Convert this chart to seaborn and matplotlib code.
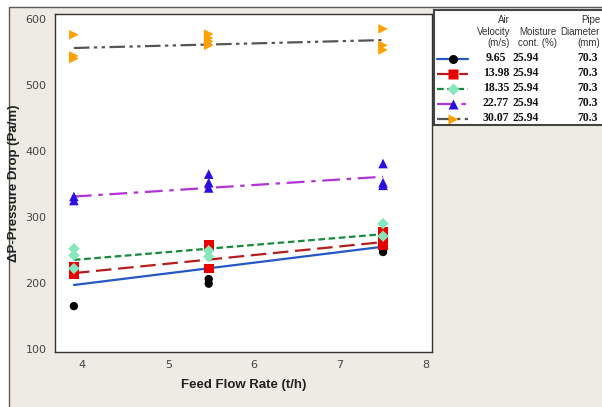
import seaborn as sns
import matplotlib.pyplot as plt
import pandas as pd
import numpy as np
from matplotlib.patches import Rectangle

# Feed flow rates (t/h) and measured pressure drops per air velocity
flow = [3.9, 5.47, 7.5]
velocities = ['9.65', '13.98', '18.35', '22.77', '30.07']
moisture = ['25.94', '25.94', '25.94', '25.94', '25.94']
diameter = ['70.3', '70.3', '70.3', '70.3', '70.3']

dp_965 = [[165], [206, 199], [247, 251]]
dp_1398 = [[224, 214], [257, 222], [277, 262, 257]]
dp_1835 = [[252, 242, 222], [249, 240], [290, 271]]
dp_2277 = [[331, 325], [365, 352, 344], [381, 352, 348]]
dp_3007 = [[576, 544, 540], [577, 571, 566, 560], [585, 560, 553]]

# fitted line values at first and last flow rate
fit_start = [197, 215, 235, 331, 556]
fit_end = [255, 262, 274, 361, 568]

series = [dp_965, dp_1398, dp_1835, dp_2277, dp_3007]
line_colors = ['#2457c5', '#b51c1c', '#178a3c', '#b034d6', '#555555']
marker_colors = ['#000000', '#e80000', '#86e6bc', '#2a10e0', '#ffa000']
markers = ['o', 's', 'D', '^', '>']
msizes = [36, 50, 34, 48, 48]
dashes = [(None, None), (7, 3), (3, 1.6), (8, 3, 2, 3), (7, 2, 1.5, 2, 1.5, 2)]

rows = []
for v, s in zip(velocities, series):
    for x, vals in zip(flow, s):
        for y in vals:
            rows.append({'flow': x, 'dp': y, 'vel': v})
df = pd.DataFrame(rows)

sns.set_style('white')
W, H = 602, 407
fig = plt.figure(figsize=(W / 100, H / 100), dpi=100)
fig.patch.set_facecolor('white')

# beige graph region with border
bg = Rectangle((9 / W, -0.1), 1.2, (H - 7) / H + 0.1, transform=fig.transFigure,
               facecolor='#eeebe5', edgecolor='#5a5a5a', lw=1.0, zorder=-10)
fig.patches.append(bg)

ax = fig.add_axes([55 / W, (H - 352) / H, (432 - 55) / W, (352 - 14) / H])
ax.set_facecolor('white')

for i, v in enumerate(velocities):
    fit = pd.DataFrame({'flow': [flow[0], flow[-1]], 'dp': [fit_start[i], fit_end[i]]})
    ln, = ax.plot(fit['flow'], fit['dp'], color=line_colors[i], lw=1.6, zorder=2)
    if dashes[i][0] is not None:
        ln.set_dashes(dashes[i])

for i, v in enumerate(velocities):
    sub = df[df['vel'] == v]
    sns.scatterplot(data=sub, x='flow', y='dp', ax=ax, marker=markers[i],
                    color=marker_colors[i], s=msizes[i], edgecolor='none',
                    zorder=3, legend=False)

ax.set_xlim(3.68, 8.07)
ax.set_ylim(95.5, 607.5)
ax.set_xticks([4, 5, 6, 7, 8])
ax.set_yticks([100, 200, 300, 400, 500, 600])
for sp in ax.spines.values():
    sp.set_color('#333333')
    sp.set_linewidth(1.0)
ax.tick_params(direction='out', length=4, width=1, color='#333333',
               labelsize=8, labelcolor='#444444', pad=2)
ax.set_xlabel('Feed Flow Rate (t/h)', fontsize=9.5, fontweight='bold',
              family='Liberation Sans', color='#222222', labelpad=6)
ax.set_ylabel('ΔP-Pressure Drop (Pa/m)', fontsize=9.5, fontweight='bold',
              family='Liberation Sans', color='#222222', labelpad=4)

# legend table
lx0, lx1, ly0, ly1 = 434, 660, 10, 125
lax = fig.add_axes([lx0 / W, (H - ly1) / H, (lx1 - lx0) / W, (ly1 - ly0) / H])
lax.set_xlim(lx0, lx1)
lax.set_ylim(ly1, ly0)
lax.set_xticks([])
lax.set_yticks([])
lax.set_facecolor('white')
for sp in lax.spines.values():
    sp.set_color('#444444')
    sp.set_linewidth(1.5)

hdr = dict(fontsize=7, color='#333333', ha='right', va='center', family='Liberation Sans')
for txt, y in zip(['Air', 'Velocity', '(m/s)'], [20, 32, 43]):
    lax.text(510, y, txt, **hdr)
for txt, y in zip(['Moisture', 'cont. (%)'], [32, 43]):
    lax.text(557, y, txt, **hdr)
for txt, y in zip(['Pipe', 'Diameter', '(mm)'], [20, 32, 43]):
    lax.text(600, y, txt, **hdr)

row_y = [58, 73, 88, 103, 118]
val = dict(fontsize=8.5, fontweight='bold', family='Liberation Serif', color='#111111', va='center')
for i in range(5):
    y = row_y[i]
    ln, = lax.plot([437, 468], [y + 1, y + 1], color=line_colors[i], lw=1.6)
    if dashes[i][0] is not None:
        ln.set_dashes(dashes[i])
    lax.plot([453], [y + 1], marker=markers[i], color=marker_colors[i], ms=6.5, mec='none')
    lax.text(496, y, velocities[i], ha='center', **val)
    lax.text(526, y, moisture[i], ha='center', **val)
    lax.text(577, y, diameter[i], ha='left', **val)

fig.savefig('out.png', dpi=100, facecolor=fig.get_facecolor())
